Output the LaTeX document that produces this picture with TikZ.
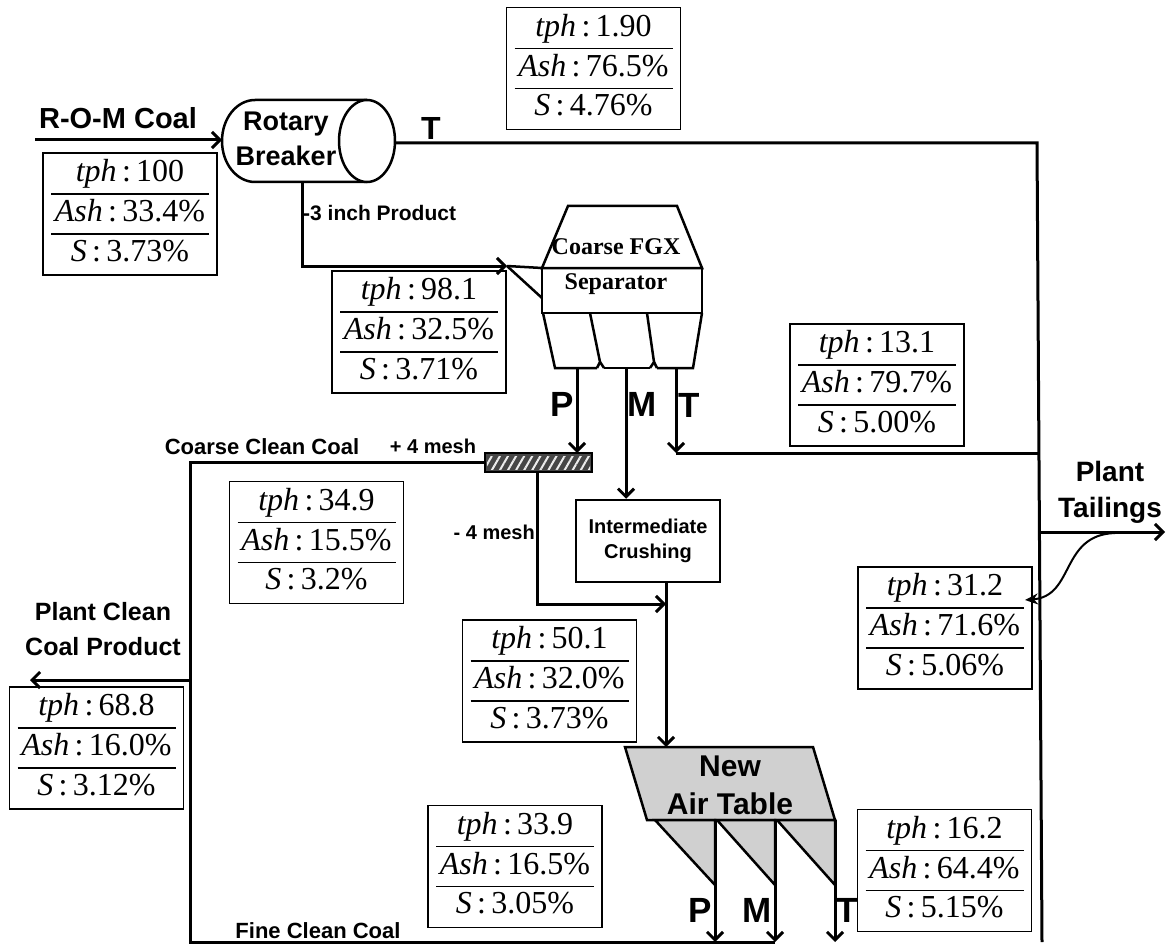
\documentclass[tikz,border=0pt]{standalone}
\usepackage{fontspec}
\setmainfont{Liberation Serif}
\setsansfont{Liberation Sans}
\usepackage{array}
\usetikzlibrary{arrows.meta,patterns.meta,calc}
\definecolor{atgray}{RGB}{208,208,208}
\definecolor{scrgray}{RGB}{70,70,70}
\newcommand\fsb[2]{\fontsize{#1}{#2}\selectfont\sffamily\bfseries}
\newcommand\stat[3]{{\renewcommand\arraystretch{1.04}\setlength\arrayrulewidth{1.3pt}%
\begin{tabular}{@{}>{\centering\arraybackslash}p{158pt}@{}}\textit{tph}\,:\,#1\\\hline\textit{Ash}\,:\,#2\\\hline\textit{S}\,:\,#3\end{tabular}}}
\begin{document}
\begin{tikzpicture}[x=1pt,y=-1pt,
  line/.style={line width=3pt},
  arr/.style={line width=3pt,-{Straight Barb[length=8pt,width=16pt]}},
  eq/.style={line width=2.5pt,line join=miter},
  statbox/.style={draw,line width=1.5pt,inner xsep=8pt,inner ysep=2pt,fill=white,font=\fontsize{32}{37}\selectfont},
  lab/.style={inner sep=0pt,align=center},
]
\useasboundingbox (0,0) rectangle (1167,944);

% ---------- Rotary breaker ----------
\path[eq,draw,fill=white] (367,100) -- (255,100) arc[start angle=270,end angle=90,x radius=33,y radius=41] -- (367,182);
\draw[eq,fill=white] (367,141) ellipse[x radius=28,y radius=41];
\node[lab,font=\fsb{27}{35}] (rbtext) at (286,139) {Rotary\\Breaker};
\coordinate (rbL) at (222,140);
\coordinate (rbR) at (394,143);
\coordinate (rbB) at (302,182);

% ---------- Coarse FGX separator ----------
\draw[eq] (568,206) -- (677,206) -- (702,268) -- (542,268) -- cycle;
\draw[eq] (542,268) rectangle (702,313);
\draw[eq] (543,313) -- (555,368) -- (597,368);
\draw[eq] (604,368) -- (650,368);
\draw[eq] (657,368) -- (693,368) -- (702,313);
\draw[eq] (590,313) -- (600,362) -- (597,368);
\draw[eq] (600,362) -- (604,368);
\draw[eq] (647,313) -- (654,362) -- (650,368);
\draw[eq] (654,362) -- (657,368);
\coordinate (chute) at (507,266);
\draw[eq] (chute) -- (542,268);
\draw[eq] (chute) -- (542,298);
\node[lab,font=\fontsize{24}{35}\selectfont\bfseries] (fgxtext) at (616,267) {Coarse FGX\\Separator};
\coordinate (fgxP) at (577,368);
\coordinate (fgxM) at (626,368);
\coordinate (fgxT) at (676,368);

% ---------- screen ----------
\node[draw,line width=2pt,fill=scrgray,minimum width=107,minimum height=19,inner sep=0pt] (screen) at (538.5,462.5) {};
\fill[pattern={Lines[angle=60,distance=7pt,line width=2pt]},pattern color=white!85!gray] (487,456) rectangle (590,469);
\draw[line width=2pt] (485,453) rectangle (592,472);

% ---------- intermediate crushing ----------
\node[draw,line width=2.5pt,minimum width=144,minimum height=82,inner sep=0pt,align=center,font=\fsb{20}{25}] (crush) at (648,541) {Intermediate\\Crushing};

% ---------- air table ----------
\filldraw[eq,fill=atgray] (625,747) -- (813,747) -- (835,820) -- (647,820) -- cycle;
\filldraw[eq,fill=atgray] (655,820) -- (715,820) -- (715,885) -- cycle;
\filldraw[eq,fill=atgray] (717,820) -- (775,820) -- (775,885) -- cycle;
\filldraw[eq,fill=atgray] (777,820) -- (835,820) -- (835,885) -- cycle;
\node[lab,font=\fsb{30}{38}] (attext) at (730,785) {New\\Air Table};
\coordinate (atIn) at (666,747);
\coordinate (atP) at (715,820);
\coordinate (atM) at (775,820);
\coordinate (atT) at (835,820);

% ---------- stat boxes ----------
\node[statbox] (s100) at (130,214) {\stat{100}{33.4\%}{3.73\%}};
\node[statbox] (s190) at (593.5,68.5) {\stat{1.90}{76.5\%}{4.76\%}};
\node[statbox] (s981) at (419,332) {\stat{98.1}{32.5\%}{3.71\%}};
\node[statbox] (s131) at (877,385) {\stat{13.1}{79.7\%}{5.00\%}};
\node[statbox] (s349) at (316.5,542.5) {\stat{34.9}{15.5\%}{3.2\%}};
\node[statbox] (s501) at (549.5,681) {\stat{50.1}{32.0\%}{3.73\%}};
\node[statbox] (s688) at (96.5,748) {\stat{68.8}{16.0\%}{3.12\%}};
\node[statbox] (s312) at (945,628) {\stat{31.2}{71.6\%}{5.06\%}};
\node[statbox] (s339) at (515,866.5) {\stat{33.9}{16.5\%}{3.05\%}};
\node[statbox] (s162) at (944.5,870.5) {\stat{16.2}{64.4\%}{5.15\%}};

% ---------- coordinates for connectors ----------
\coordinate (romS) at (35,140);
\coordinate (rtTop) at (1037,143);
\coordinate (rtBot) at (1042,942);
\coordinate (c3a) at (302,266);
\coordinate (scrTopP) at (577,453);
\coordinate (scrTopT) at (676,453);
\coordinate (tJoin) at (1038,453);
\coordinate (ccA) at (190,462.5);
\coordinate (ccB) at (190,942);
\coordinate (ccOut) at (190,680);
\coordinate (pcc) at (30,680);
\coordinate (m4a) at (537,472);
\coordinate (m4b) at (537,604);
\coordinate (crOut) at (666,582);
\coordinate (m4c) at (666,604);
\coordinate (fcEnd) at (775,942);
\coordinate (bP) at (715,942);
\coordinate (bM) at (775,942);
\coordinate (bT) at (835,942);
\coordinate (ptA) at (1039,532);
\coordinate (ptB) at (1165,532);
\coordinate (crvS) at (1115,533);
\coordinate (crvE) at (1025,600);

% ---------- connectors ----------
\draw[arr] (romS) -- (rbL);
\draw[line] (rbR) -- (rtTop) -- (rtBot);
\draw[arr] (rbB) -- (c3a) -- (chute);
\draw[arr] (fgxP) -- (scrTopP);
\draw[arr] (fgxM) -- (fgxM |- crush.north);
\draw[arr] (fgxT) -- (scrTopT);
\draw[line] (scrTopT) -- (tJoin);
\draw[line] (screen.west) -- (ccA) -- (ccB) -- (fcEnd);
\draw[arr] (ccOut) -- (pcc);
\draw[arr] (m4a) -- (m4b) -- (m4c);
\draw[arr] (crOut) -- (atIn);
\draw[arr] (atP) -- (bP);
\draw[arr] (atM) -- (bM);
\draw[arr] (atT) -- (bT);
\draw[arr] (ptA) -- (ptB);
\draw[line width=2pt,-{Stealth[length=13pt,width=11pt]}] (crvS) .. controls (1060,535) and (1075,596) .. (crvE);

% ---------- labels ----------
\node[lab,font=\fsb{29}{34}] (romlab) at (118,118) {R-O-M Coal};
\node[lab,font=\fsb{32}{34}] (tlab1) at (431,128) {T};
\node[lab,font=\fsb{21}{24},anchor=west] (in3) at (303,213) {-3 inch Product};
\node[lab,font=\fsb{35}{36}] (pl1) at (562,404) {P};
\node[lab,font=\fsb{35}{36}] (ml1) at (642,404) {M};
\node[lab,font=\fsb{35}{36}] (tl1) at (689,405) {T};
\node[lab,font=\fsb{22}{26}] (cclab) at (262,447) {Coarse Clean Coal};
\node[lab,font=\fsb{20}{24}] (p4) at (433,446) {+ 4 mesh};
\node[lab,font=\fsb{20}{24},anchor=east] (m4) at (535,532) {- 4 mesh};
\node[lab,font=\fsb{25}{35}] (pclab) at (103,629) {Plant Clean\\Coal Product};
\node[lab,font=\fsb{28}{36}] (ptlab) at (1110,492) {Plant\\Tailings};
\node[lab,font=\fsb{22}{26}] (fclab) at (318,931) {Fine Clean Coal};
\node[lab,font=\fsb{35}{36}] (pl2) at (700,910) {P};
\node[lab,font=\fsb{35}{36}] (ml2) at (757,910) {M};
\node[lab,font=\fsb{35}{36}] (tl2) at (847,910) {T};
\end{tikzpicture}
\end{document}
